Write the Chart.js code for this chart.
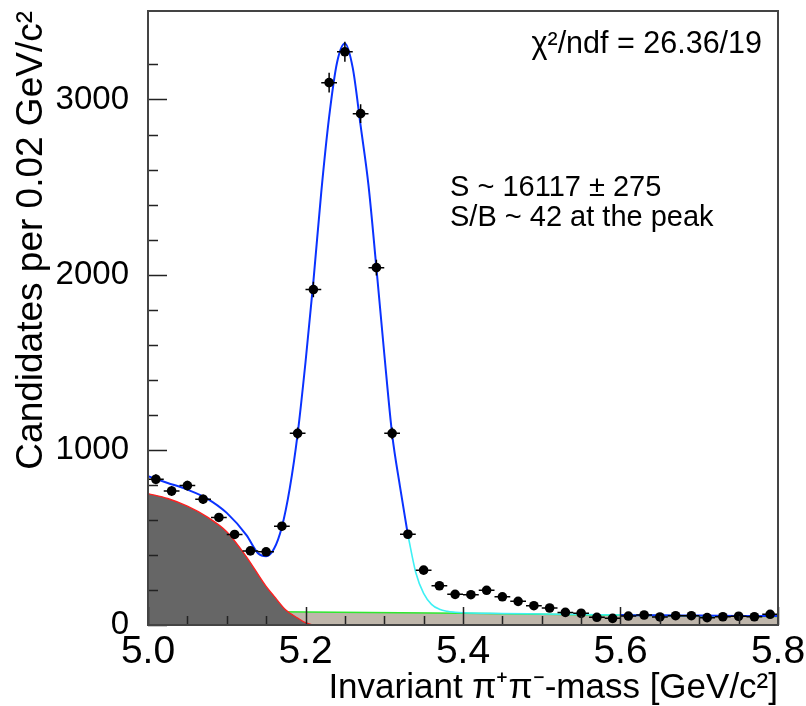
<!DOCTYPE html>
<html>
<head>
<meta charset="utf-8">
<script src="https://cdn.jsdelivr.net/npm/chart.js@4.4.0/dist/chart.umd.min.js"></script>
<style>
html, body { margin: 0; padding: 0; background: #fff; }
</style>
</head>
<body>
<canvas id="c" width="806" height="706"></canvas>
<script>
// measured B -> pi+ pi- candidates, 0.02 GeV bins
const bin_centers = [
	5.01, 5.03, 5.05, 5.07, 5.09, 5.11, 5.13, 5.15, 5.17, 5.19,
	5.21, 5.23, 5.25, 5.27, 5.29, 5.31, 5.33, 5.35, 5.37, 5.39,
	5.41, 5.43, 5.45, 5.47, 5.49, 5.51, 5.53, 5.55, 5.57, 5.59,
	5.61, 5.63, 5.65, 5.67, 5.69, 5.71, 5.73, 5.75, 5.77, 5.79,
]
const counts = [
	832, 765, 796, 718, 614, 517, 423, 418, 564, 1094,
	1915, 3096, 3272, 2919, 2040, 1094, 518, 313, 224, 175,
	173, 198, 161, 135, 110, 97, 72, 67, 44, 38,
	51, 57, 46, 53, 53, 42, 47, 50, 47, 61,
]
const count_errors = [
	29, 28, 28, 27, 25, 23, 21, 20, 24, 33,
	44, 56, 57, 54, 45, 33, 23, 18, 15, 13,
	13, 14, 13, 12, 10, 10, 8, 8, 7, 6,
	7, 8, 7, 7, 7, 6, 7, 7, 7, 8,
]
const bin_half_width = 0.01

// total fit, fitted range (blue)
const fit_x = [
	5.0, 5.025, 5.05, 5.075, 5.1, 5.125, 5.14, 5.15, 5.16, 5.17,
	5.18, 5.19, 5.2, 5.21, 5.22, 5.23, 5.24, 5.25, 5.26, 5.27,
	5.28, 5.29, 5.3, 5.31, 5.32, 5.33,
]
const fit_y = [
	849, 811, 773, 722, 640, 513, 408, 393, 435, 560,
	780, 1090, 1500, 1960, 2470, 2900, 3210, 3320, 3180, 2850,
	2510, 2040, 1550, 1090, 790, 515,
]
// total fit outside fitted range (cyan)
const tail_x = [5.33, 5.34, 5.35, 5.36, 5.37, 5.38, 5.39, 5.4, 5.45, 5.5, 5.55, 5.6]
const tail_y = [515, 300, 180, 118, 90, 78, 73, 70, 66, 63, 60, 57]
// total fit, upper sideband (blue)
const side_x = [5.6, 5.65, 5.7, 5.75, 5.8]
const side_y = [57, 55, 54, 52, 51]
// combinatorial background (green line, beige fill)
const comb_x = [5.0, 5.2, 5.4, 5.6, 5.8]
const comb_y = [82, 74, 67, 56, 49]
// partially reconstructed background (red line, grey fill)
const part_x = [5.0, 5.025, 5.05, 5.075, 5.1, 5.125, 5.15, 5.16, 5.175, 5.19, 5.2, 5.21]
const part_y = [750, 722, 678, 617, 532, 389, 220, 165, 85, 40, 13, 0]

const x_tick_values = [5.0, 5.2, 5.4, 5.6, 5.8]
const x_tick_labels = ['5.0', '5.2', '5.4', '5.6', '5.8']
const y_tick_values = [0, 1000, 2000, 3000]
const y_tick_labels = ['0', '1000', '2000', '3000']

const chi2_text = 'χ²/ndf = 26.36/19'
const signal_lines = ['S ~ 16117 ± 275', 'S/B ~ 42 at the peak']

function to_points (xs, ys) {
	return xs.map((x, i) => ({ x: x, y: ys[i] }))
}

const error_bars = {
	id: 'error_bars',
	afterDatasetsDraw (chart) {
		const { ctx, scales: { x, y } } = chart
		ctx.save()
		ctx.strokeStyle = '#000'
		ctx.lineWidth = 1.5
		ctx.beginPath()
		bin_centers.forEach(function (m, i) {
			const px = x.getPixelForValue(m)
			const py = y.getPixelForValue(counts[i])
			ctx.moveTo(x.getPixelForValue(m - bin_half_width), py)
			ctx.lineTo(x.getPixelForValue(m + bin_half_width), py)
			ctx.moveTo(px, y.getPixelForValue(counts[i] - count_errors[i]))
			ctx.lineTo(px, y.getPixelForValue(counts[i] + count_errors[i]))
		})
		ctx.stroke()
		ctx.restore()
	},
}

const root_frame = {
	id: 'root_frame',
	afterDatasetsDraw (chart) {
		const { ctx, chartArea: a, scales: { x, y } } = chart
		ctx.save()
		ctx.strokeStyle = '#222'
		ctx.lineWidth = 1.5
		ctx.beginPath()
		for (const t of x.ticks) {
			const k = Math.round(t.value * 20)
			const px = Math.round(x.getPixelForValue(t.value)) + 0.5
			ctx.moveTo(px, a.bottom)
			ctx.lineTo(px, a.bottom - (k % 4 === 0 ? 18 : 9))
		}
		for (const t of y.ticks) {
			if (t.value % 200 !== 0) continue
			const py = Math.round(y.getPixelForValue(t.value)) + 0.5
			ctx.moveTo(a.left, py)
			ctx.lineTo(a.left + (t.value % 1000 === 0 ? 19 : 10), py)
		}
		ctx.stroke()
		ctx.strokeStyle = '#444'
		ctx.lineWidth = 2
		ctx.strokeRect(a.left, a.top, a.right - a.left, a.bottom - a.top)

		ctx.fillStyle = '#000'
		ctx.textBaseline = 'alphabetic'
		ctx.font = '30.5px "Liberation Sans", Arial, sans-serif'
		ctx.textAlign = 'right'
		ctx.fillText(chi2_text, a.right - 16, a.top + 42)
		ctx.font = '29px "Liberation Sans", Arial, sans-serif'
		ctx.textAlign = 'left'
		signal_lines.forEach(function (s, i) {
			ctx.fillText(s, 450, 196 + i * 30)
		})
		ctx.restore()
	},
}

Chart.defaults.font.family = '"Liberation Sans", Arial, sans-serif'
Chart.defaults.color = '#000'

const ctx = document.getElementById('c').getContext('2d')
const chart = new Chart(ctx, {
	type: 'scatter',
	data: {
		datasets: [
			{
				label: 'Data',
				data: to_points(bin_centers, counts),
				backgroundColor: '#000',
				borderColor: '#000',
				pointRadius: 4.8,
				pointBorderWidth: 0,
			},
			{
				label: 'Fit',
				type: 'line',
				data: to_points(fit_x, fit_y),
				borderColor: '#0a32ff',
				borderWidth: 2,
				pointRadius: 0,
				cubicInterpolationMode: 'monotone',
				fill: false,
			},
			{
				label: 'Fit sideband',
				type: 'line',
				data: to_points(side_x, side_y),
				borderColor: '#0a32ff',
				borderWidth: 2,
				pointRadius: 0,
				cubicInterpolationMode: 'monotone',
				fill: false,
			},
			{
				label: 'Fit extrapolation',
				type: 'line',
				data: to_points(tail_x, tail_y),
				borderColor: '#3ff0f4',
				borderWidth: 1.6,
				pointRadius: 0,
				cubicInterpolationMode: 'monotone',
				fill: false,
			},
			{
				label: 'Partially reconstructed',
				type: 'line',
				data: to_points(part_x, part_y),
				borderColor: '#ff2020',
				backgroundColor: 'rgb(102, 102, 102)',
				borderWidth: 1.4,
				pointRadius: 0,
				cubicInterpolationMode: 'monotone',
				fill: 'origin',
			},
			{
				label: 'Combinatorial',
				type: 'line',
				data: to_points(comb_x, comb_y),
				borderColor: '#2ee82e',
				backgroundColor: 'rgb(191, 182, 171)',
				borderWidth: 1.6,
				pointRadius: 0,
				cubicInterpolationMode: 'monotone',
				fill: 'origin',
			},
		],
	},
	options: {
		responsive: false,
		animation: false,
		layout: { padding: { top: 11, right: 28, left: 0, bottom: 0 } },
		plugins: {
			legend: { display: false },
			tooltip: { enabled: false },
		},
		scales: {
			x: {
				type: 'linear',
				min: 5.0,
				max: 5.8,
				grid: { display: false },
				border: { display: false },
				afterFit (s) {
					s.height = 81
					s.paddingLeft = 0
					s.paddingRight = 0
				},
				ticks: {
					stepSize: 0.05,
					autoSkip: false,
					maxRotation: 0,
					padding: 0,
					font: { size: 39, lineHeight: 1 },
					callback (v) {
						const i = x_tick_values.findIndex(t => Math.abs(t - v) < 1e-6)
						return i < 0 ? '' : x_tick_labels[i]
					},
				},
				title: {
					display: true,
					text: 'Invariant π⁺π⁻-mass [GeV/c²]',
					align: 'end',
					font: { size: 35, lineHeight: 1 },
					padding: { top: 0, bottom: 0 },
				},
			},
			y: {
				min: 0,
				max: 3505,
				grid: { display: false },
				border: { display: false },
				afterFit (s) {
					s.width = 148
					s.paddingTop = 0
					s.paddingBottom = 0
				},
				ticks: {
					stepSize: 200,
					autoSkip: false,
					padding: 11,
					font: { size: 33 },
					callback (v) {
						const i = y_tick_values.indexOf(v)
						return i < 0 ? '' : y_tick_labels[i]
					},
				},
				title: {
					display: true,
					text: 'Candidates per 0.02 GeV/c²',
					align: 'end',
					font: { size: 37, lineHeight: 1 },
					padding: { top: 13, bottom: 0 },
				},
			},
		},
	},
	plugins: [error_bars, root_frame],
})
</script>
</body>
</html>
